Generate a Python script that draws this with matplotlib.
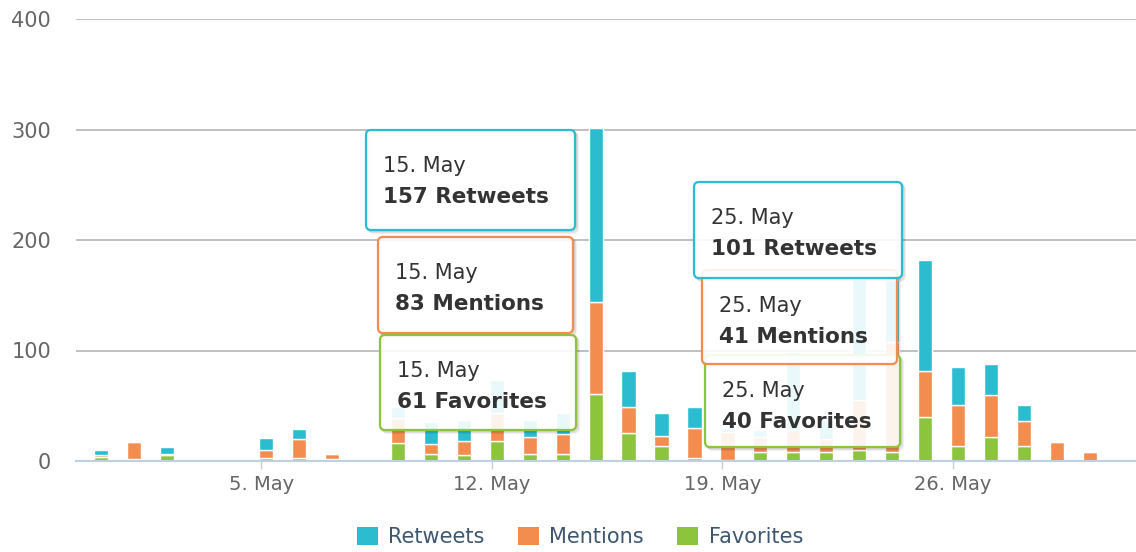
import numpy as np
import matplotlib.pyplot as plt
from matplotlib.patches import FancyBboxPatch, Rectangle

# daily counts, day 0 = 30 April, day 30 = 30 May
days = np.arange(0, 31)
favorites = [4, 2, 5, 0, 0, 3, 3, 2, 0, 16, 6, 5, 18, 6, 6, 61, 25, 14, 3, 1,
             8, 8, 8, 10, 8, 40, 14, 22, 14, 0, 0]
mentions = [1, 15, 1, 0, 0, 7, 17, 4, 0, 23, 9, 13, 25, 16, 18, 83, 24, 9, 27, 25,
            14, 20, 12, 45, 100, 41, 37, 38, 22, 17, 8]
retweets = [5, 0, 7, 0, 0, 11, 9, 0, 0, 10, 20, 19, 30, 15, 19, 157, 32, 20, 19, 4,
            6, 71, 17, 110, 56, 101, 34, 28, 15, 0, 0]

tick_days = [5, 12, 19, 26]
tick_labels = ["5. May", "12. May", "19. May", "26. May"]

series = ["Retweets", "Mentions", "Favorites"]
colors = {"Retweets": "#2bbcd0", "Mentions": "#f28c4f", "Favorites": "#8cc43c"}
values = {"Retweets": retweets, "Mentions": mentions, "Favorites": favorites}

W, H = 1136, 552
fig = plt.figure(figsize=(W / 100, H / 100), dpi=100)
ax = fig.add_axes([76 / W, 91 / H, 1 - 76 / W, (461 - 19) / H])

fav = np.array(favorites)
men = np.array(mentions)
ret = np.array(retweets)
bw = 0.43
ax.bar(days, fav, bw, color=colors["Favorites"], edgecolor="white", linewidth=1, zorder=2)
ax.bar(days, men, bw, bottom=fav, color=colors["Mentions"], edgecolor="white", linewidth=1, zorder=2)
ax.bar(days, ret, bw, bottom=fav + men, color=colors["Retweets"], edgecolor="white", linewidth=1, zorder=2)

ax.set_xlim(-0.77, 31.4)
ax.set_ylim(0, 400)
ax.set_yticks([0, 100, 200, 300, 400])
ax.grid(axis="y", color="#c0c0c0", linewidth=1.4, zorder=0)
ax.set_xticks(np.array(tick_days) - 0.15)
ax.set_xticklabels(tick_labels)
ax.tick_params(axis="y", length=0, pad=18, labelsize=15, labelcolor="#666666")
ax.tick_params(axis="x", length=6, width=1, color="#c0d0e0", pad=4, labelsize=14,
               labelcolor="#666666")
for side in ["top", "right", "left"]:
    ax.spines[side].set_visible(False)
ax.spines["bottom"].set_color("#c0d0e0")
ax.spines["bottom"].set_linewidth(1.5)
ax.spines["bottom"].set_zorder(3)

# tooltips, drawn in pixel space (inches * 100)
pix = fig.dpi_scale_trans


def tooltip(left, top, w, h, day, name):
    val = values[name][day]
    col = colors[name]
    # soft shadow as offset outlines only, so the box interior stays white
    for off, a in [(3, 0.05), (2, 0.08), (1, 0.1)]:
        shadow = FancyBboxPatch(((left + off) / 100, (H - top - h - off) / 100), w / 100, h / 100,
                                boxstyle="round,pad=0,rounding_size=0.05", transform=pix,
                                facecolor="none", edgecolor=(0, 0, 0, a), linewidth=1.5, zorder=5)
        fig.add_artist(shadow)
    box = FancyBboxPatch((left / 100, (H - top - h) / 100), w / 100, h / 100,
                         boxstyle="round,pad=0,rounding_size=0.05", transform=pix,
                         facecolor=(1, 1, 1, 0.9), edgecolor=col, linewidth=1.6, zorder=6)
    fig.add_artist(box)
    fig.text((left + 17) / W, 1 - (top + 36) / H, f"{day}. May", fontsize=15,
             color="#333333", va="center", zorder=7)
    fig.text((left + 17) / W, 1 - (top + 67) / H, f"{val} {name}", fontsize=15.5,
             fontweight="bold", color="#333333", va="center", zorder=7)


tooltip(380, 335, 196, 95, 15, "Favorites")
tooltip(378, 237, 195, 96, 15, "Mentions")
tooltip(366, 130, 209, 100, 15, "Retweets")
tooltip(705, 355, 195, 92, 25, "Favorites")
tooltip(702, 270, 195, 94, 25, "Mentions")
tooltip(694, 182, 208, 96, 25, "Retweets")

handles = [Rectangle((0, 0), 1, 1, facecolor=colors[s], edgecolor="none") for s in series]
leg = fig.legend(handles, series, loc="center", bbox_to_anchor=(580 / W, 1 - 537 / H),
                 ncol=3, frameon=False, fontsize=15, handlelength=1.0, handleheight=1.0,
                 handletextpad=0.5, columnspacing=1.6)
for t in leg.get_texts():
    t.set_color("#3e576f")

fig.savefig("out.png", dpi=100)
